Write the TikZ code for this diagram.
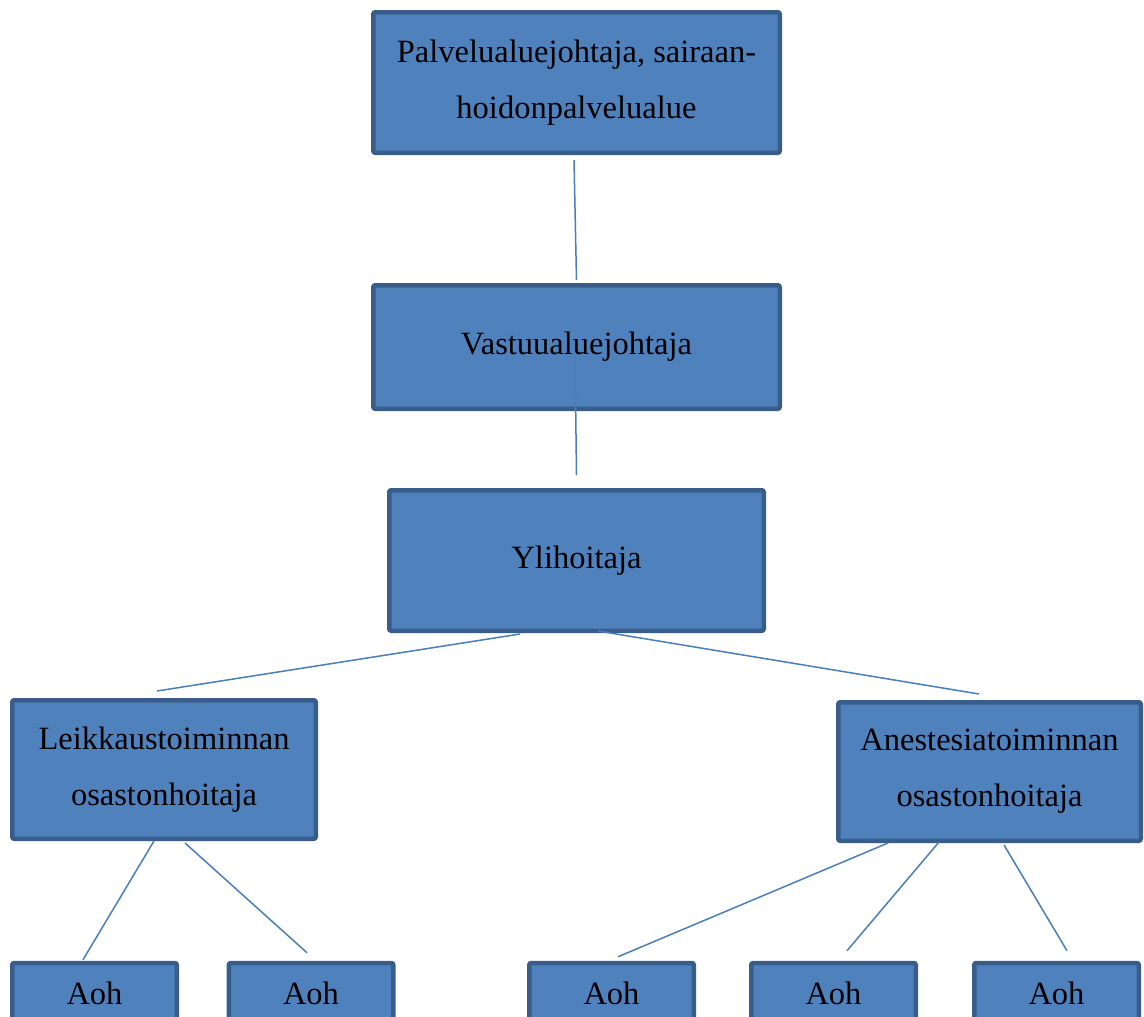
\documentclass[tikz,border=0pt]{standalone}
\usepackage{fontspec}
\setmainfont{Liberation Serif}
\usepackage{tikz}
\usetikzlibrary{positioning}
\definecolor{boxfill}{HTML}{4F81BD}
\definecolor{boxline}{HTML}{385D8A}
\definecolor{linkcol}{HTML}{4A7EBB}

\begin{document}
\begin{tikzpicture}[x=1pt, y=-1pt,
    orgbox/.style={draw=boxline, line width=4.5pt, rounded corners=2pt, fill=boxfill,
        inner sep=0pt, align=center, font=\fontsize{32.5}{56}\selectfont},
    aohbox/.style={orgbox, minimum width=164.5pt, minimum height=60pt},
    link/.style={draw=linkcol, line width=1.5pt}]
    \useasboundingbox (0,0) rectangle (1144,1017);

    \node[orgbox, minimum width=406.5pt, minimum height=140.5pt] (palv) at (576.5,82.5) {Palvelualuejohtaja, sairaan-\\hoidonpalvelualue};
    \node[orgbox, minimum width=406.5pt, minimum height=123.5pt] (vast) at (576.5,347) {Vastuualuejohtaja};
    \node[orgbox, minimum width=374.5pt, minimum height=140.5pt] (yli) at (576.5,560.5) {Ylihoitaja};
    \node[orgbox, minimum width=303.5pt, minimum height=138.5pt] (leik) at (164,769.5) {Leikkaustoiminnan\\osastonhoitaja};
    \node[orgbox, minimum width=302.5pt, minimum height=138.5pt] (anest) at (989.5,771.5) {Anestesiatoiminnan\\osastonhoitaja};

    \node[aohbox] (aoh1) at (94.5,993) {Aoh};
    \node[aohbox] (aoh2) at (311,993) {Aoh};
    \node[aohbox] (aoh3) at (611.5,993) {Aoh};
    \node[aohbox] (aoh4) at (833.5,993) {Aoh};
    \node[aohbox] (aoh5) at (1056.5,993) {Aoh};

    \draw[link] ([xshift=-2.5pt,yshift=-5pt]palv.south) -- ([yshift=3pt]vast.north);
    \draw[link] ([xshift=-1.5pt,yshift=-6pt]vast.center) -- ([yshift=13pt]yli.north);
    \draw[link] ([xshift=-56.5pt,yshift=-1pt]yli.south) -- ([xshift=-7pt,yshift=7pt]leik.north);
    \draw[link] ([xshift=21.5pt,yshift=2pt]yli.south) -- ([xshift=-10.5pt,yshift=6pt]anest.north);
    \draw[link] ([xshift=-10pt]leik.south) -- ([xshift=-11.5pt,yshift=1pt]aoh1.north);
    \draw[link] ([xshift=21pt,yshift=-2pt]leik.south) -- ([xshift=-4pt,yshift=8pt]aoh2.north);
    \draw[link] ([xshift=-101.5pt]anest.south) -- ([xshift=6.5pt,yshift=4pt]aoh3.north);
    \draw[link] ([xshift=-50.5pt,yshift=1pt]anest.south) -- ([xshift=13.5pt,yshift=10pt]aoh4.north);
    \draw[link] ([xshift=14.5pt,yshift=-2pt]anest.south) -- ([xshift=10.5pt,yshift=10pt]aoh5.north);
\end{tikzpicture}
\end{document}
